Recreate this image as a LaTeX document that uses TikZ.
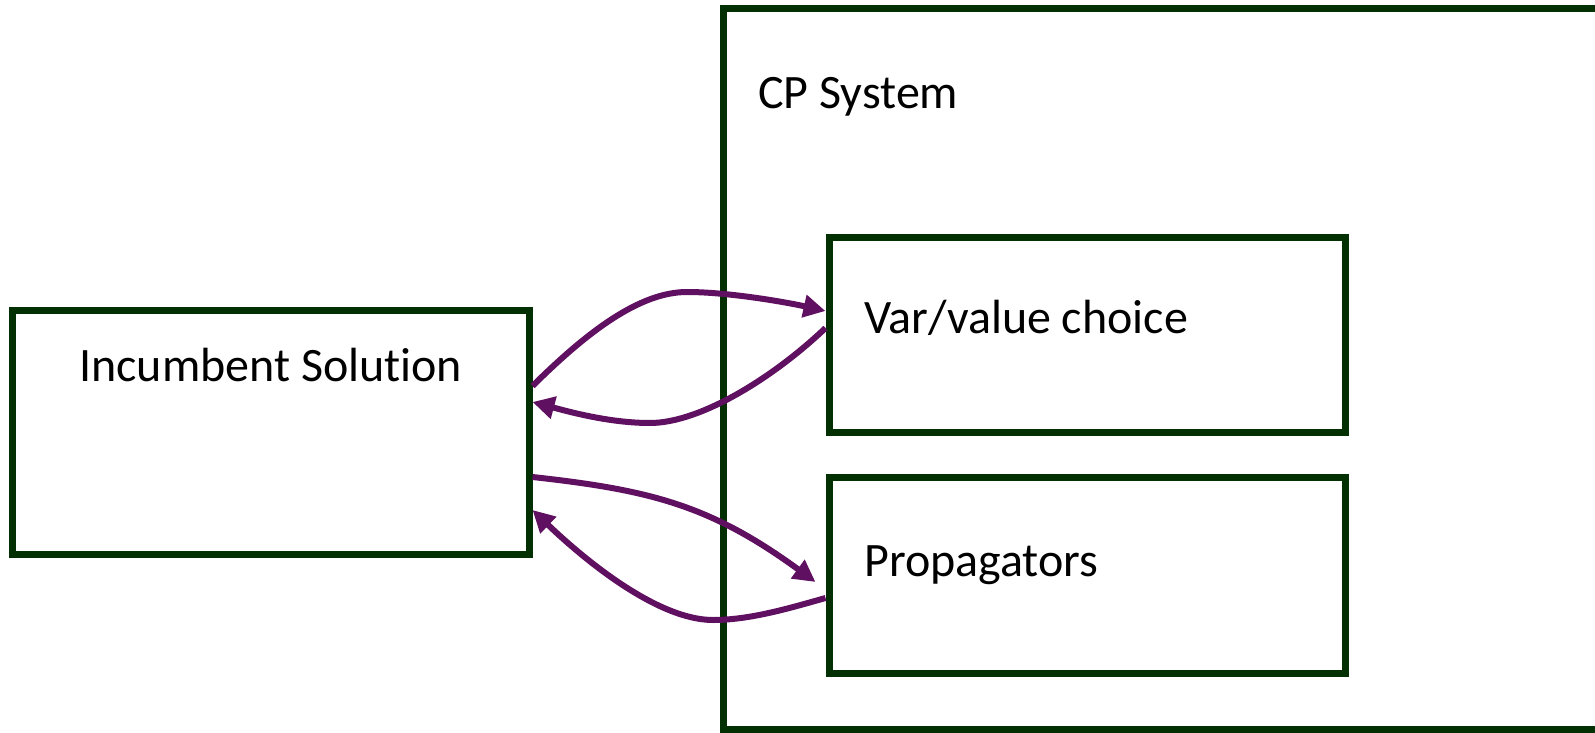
\documentclass[tikz,border=0pt]{standalone}
\usepackage{fontspec}
\setmainfont{Carlito}[Ligatures={NoCommon}]
\usetikzlibrary{arrows.meta}
\definecolor{boxgreen}{RGB}{3,48,3}
\definecolor{arrowpurple}{RGB}{96,16,96}
\begin{document}
\begin{tikzpicture}[x=1pt,y=-1pt,
  box/.style={draw=boxgreen,line width=7pt,inner sep=0pt},
  conn/.style={draw=arrowpurple,line width=6pt,-{Triangle[length=22pt,width=22pt]}},
  lbl/.style={font=\fontsize{48}{57}\selectfont,inner sep=0pt,anchor=base west}]
\useasboundingbox (0,0) rectangle (1595,733);
\clip (0,0) rectangle (1595,733);
\node[box,minimum width=900pt,minimum height=720pt] (cp) at (1173,369) {};
\node[box,minimum width=517pt,minimum height=244pt] (inc) at (270.5,432) {};
\node[box,minimum width=516pt,minimum height=195pt] (var) at (1087,334.5) {};
\node[box,minimum width=516pt,minimum height=196pt] (prop) at (1087,575) {};
\node[lbl] (cptext) at (758,109) {CP System};
\node[lbl] (inctext) at (79,381) {Incumbent Solution};
\node[lbl] (vartext) at (864,333) {Var/value choice};
\node[lbl] (proptext) at (864,576) {Propagators};
\draw[conn] ([yshift=46pt]inc.east) .. controls (588,331) and (640,292) .. (687,292)
  .. controls (730,292) and (790,303) .. ([yshift=23.5pt]var.west);
\draw[conn] ([yshift=6.5pt]var.west) .. controls (773,378) and (700,423) .. (650,423)
  .. controls (610,423) and (570,412) .. ([yshift=30pt]inc.east);
\draw[conn] ([yshift=-45pt]inc.east) .. controls (650,490) and (710,505) .. ([xshift=-10pt,yshift=-7pt]prop.west);
\draw[conn] ([yshift=-23pt]prop.west) .. controls (790,608) and (750,620) .. (713,620)
  .. controls (660,620) and (590,565) .. ([yshift=-78pt]inc.east);
\end{tikzpicture}
\end{document}
